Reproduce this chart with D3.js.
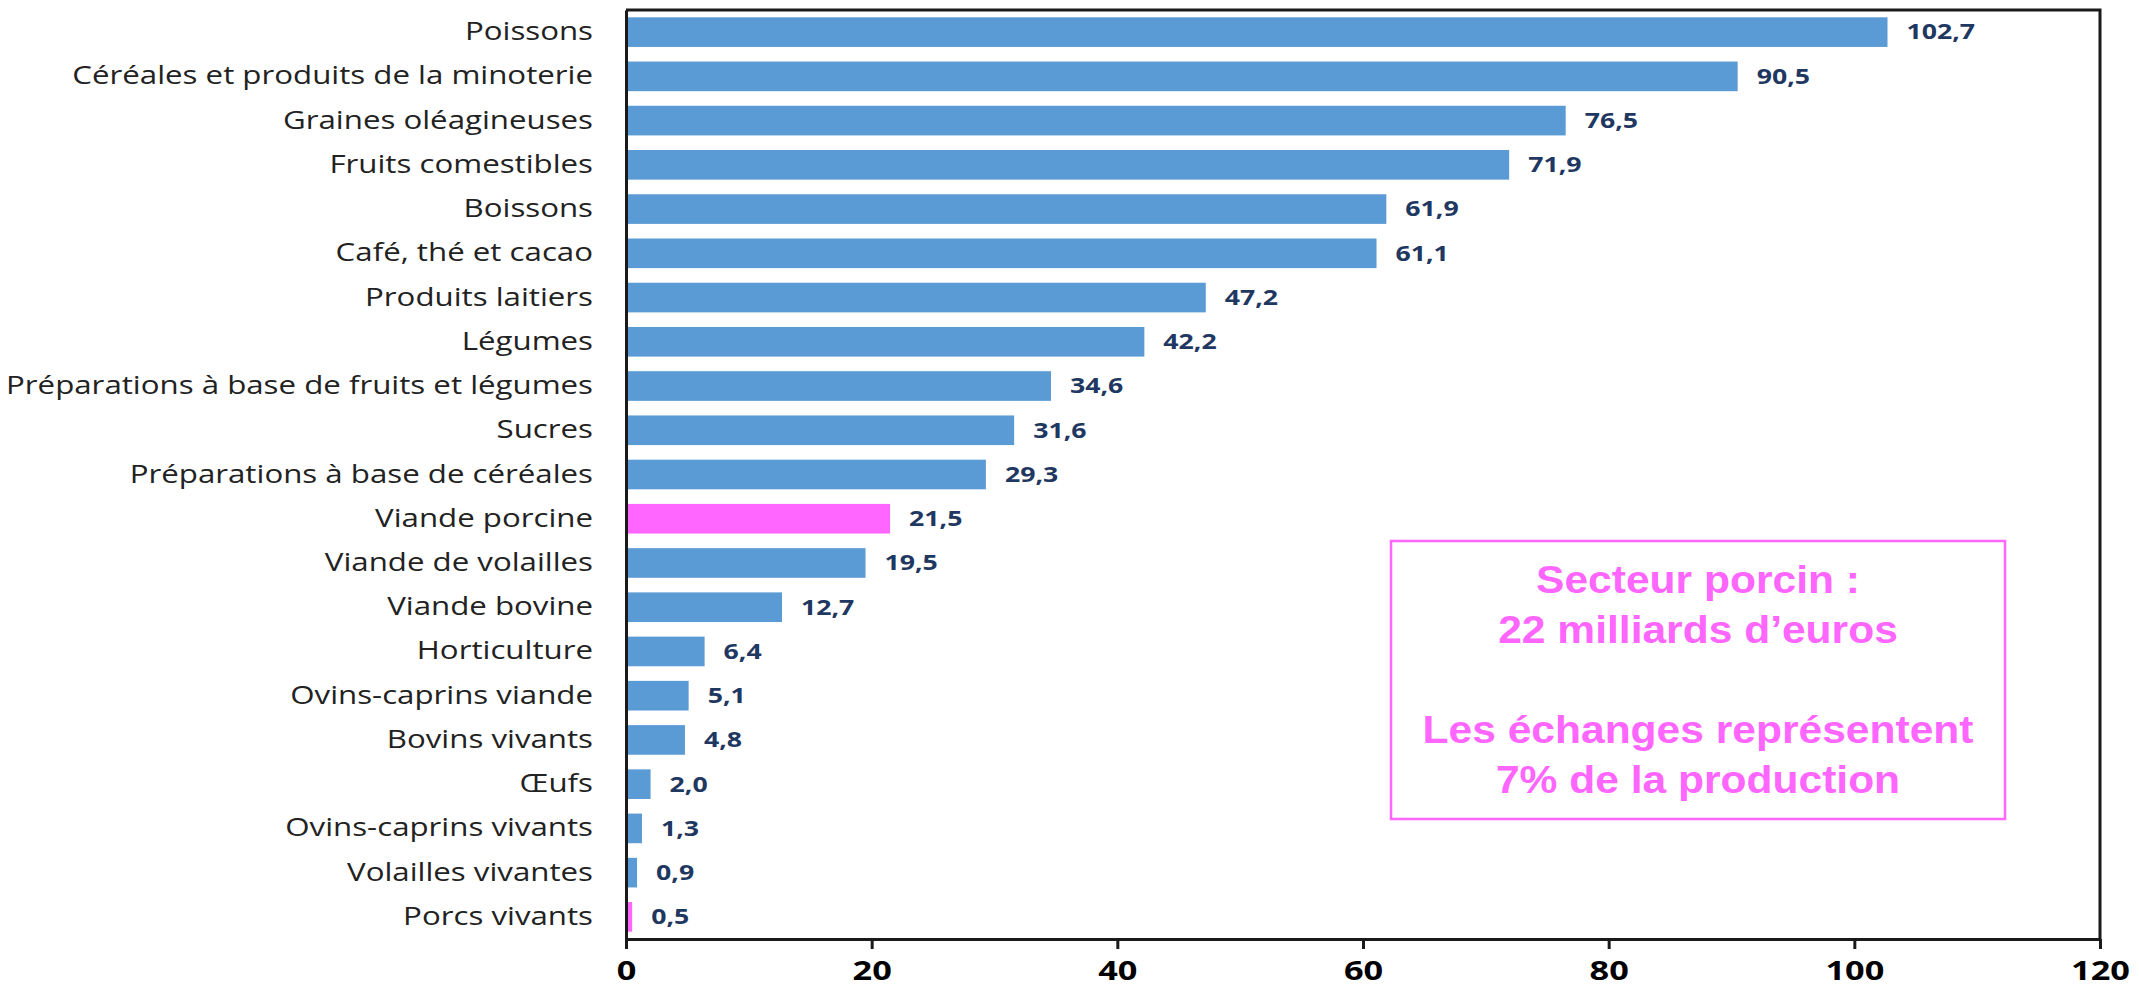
<!DOCTYPE html>
<html>
<head>
<meta charset="utf-8">
<script src="https://cdn.jsdelivr.net/npm/d3@7"></script>
<style>
  body { margin: 0; background: #fff; }
  svg { display: block; }
</style>
</head>
<body>
<div id="chart"></div>
<script>
var categories = [
  "Poissons",
  "Céréales et produits de la minoterie",
  "Graines oléagineuses",
  "Fruits comestibles",
  "Boissons",
  "Café, thé et cacao",
  "Produits laitiers",
  "Légumes",
  "Préparations à base de fruits et légumes",
  "Sucres",
  "Préparations à base de céréales",
  "Viande porcine",
  "Viande de volailles",
  "Viande bovine",
  "Horticulture",
  "Ovins-caprins viande",
  "Bovins vivants",
  "Œufs",
  "Ovins-caprins vivants",
  "Volailles vivantes",
  "Porcs vivants"
];
var values = [102.7, 90.5, 76.5, 71.9, 61.9, 61.1, 47.2, 42.2, 34.6, 31.6, 29.3,
  21.5, 19.5, 12.7, 6.4, 5.1, 4.8, 2.0, 1.3, 0.9, 0.5];
var highlighted = ["Viande porcine", "Porcs vivants"];
var xTicks = [0, 20, 40, 60, 80, 100, 120];
var noteLines = ["Secteur porcin :", "22 milliards d’euros", "", "Les échanges représentent", "7% de la production"];

var width = 2139,
height = 990;
var margin = { top: 10, right: 39, bottom: 51, left: 626 };
// the original picture is stretched sideways, so text gets widened too
var stretch = 1.25;

var data = categories.map(function (c, i) {
  return { label: c, value: values[i] };
});

var svg = d3.select("#chart").append("svg")
  .attr("width", width)
  .attr("height", height);

var x = d3.scaleLinear()
  .domain([0, 120])
  .range([margin.left, width - margin.right]);

var y = d3.scaleBand()
  .domain(categories)
  .range([margin.top, height - margin.bottom])
  .paddingInner(0.33)
  .paddingOuter(0.165);

var fmt = function (v) {
  return d3.format(".1f")(v).replace(".", ",");
};

// bars
svg.append("g").attr("class", "bars")
  .selectAll("rect")
  .data(data)
  .enter()
  .append("rect")
  .attr("x", x(0))
  .attr("y", function (d) { return y(d.label); })
  .attr("width", function (d) { return x(d.value) - x(0); })
  .attr("height", y.bandwidth())
  .attr("fill", function (d) {
    return highlighted.indexOf(d.label) >= 0 ? "#ff66ff" : "#5b9bd5";
  });

// value labels
svg.append("g").attr("class", "values")
  .selectAll("text")
  .data(data)
  .enter()
  .append("text")
  .attr("transform", function (d) {
    return "translate(" + (x(d.value) + 19) + "," + (y(d.label) + y.bandwidth() / 2) + ") scale(1.27,1)";
  })
  .attr("dy", "0.35em")
  .style("font-family", "'Open Sans', sans-serif")
  .style("font-weight", "bold")
  .style("font-size", "21px")
  .style("fill", "#1f3861")
  .text(function (d) { return fmt(d.value); });

// frame (top and right)
svg.append("path")
  .attr("class", "frame")
  .attr("d", "M" + x(0) + "," + margin.top + "H" + x(120) + "V" + (height - margin.bottom))
  .attr("fill", "none")
  .attr("stroke", "#1a1a1a")
  .attr("stroke-width", 3);

// y axis (no ticks)
var yAxis = svg.append("g")
  .attr("transform", "translate(" + x(0) + ",0)")
  .call(d3.axisLeft(y).tickSize(0).tickPadding(0));
yAxis.select(".domain")
  .attr("stroke", "#1a1a1a")
  .attr("stroke-width", 3);
yAxis.selectAll("text")
  .attr("x", -33 / stretch)
  .attr("transform", "scale(" + stretch + ",1)")
  .style("font-family", "'Open Sans', sans-serif")
  .style("font-size", "25px")
  .style("fill", "#222");

// x axis
var xAxis = svg.append("g")
  .attr("transform", "translate(0," + (height - margin.bottom) + ")")
  .call(d3.axisBottom(x).tickValues(xTicks).tickSize(10).tickSizeOuter(0).tickPadding(12));
xAxis.select(".domain")
  .attr("stroke", "#1a1a1a")
  .attr("stroke-width", 3);
xAxis.selectAll(".tick line")
  .attr("stroke", "#1a1a1a")
  .attr("stroke-width", 3);
xAxis.selectAll("text")
  .attr("transform", "scale(1.27,1)")
  .style("font-family", "'Open Sans', sans-serif")
  .style("font-weight", "bold")
  .style("font-size", "27px")
  .style("fill", "#000");

// annotation box
var note = svg.append("g").attr("class", "note");
note.append("rect")
  .attr("x", 1391)
  .attr("y", 541)
  .attr("width", 614)
  .attr("height", 278)
  .attr("fill", "#fff")
  .attr("stroke", "#ff66ff")
  .attr("stroke-width", 2.5);
note.selectAll("text")
  .data(noteLines)
  .enter()
  .append("text")
  .attr("transform", function (d, i) {
    return "translate(1698," + (580 + i * 50) + ") scale(1.12,1)";
  })
  .attr("dy", "0.35em")
  .attr("text-anchor", "middle")
  .style("font-family", "'Liberation Sans', Arial, sans-serif")
  .style("font-weight", "bold")
  .style("font-size", "38px")
  .style("fill", "#ff66ff")
  .text(function (d) { return d; });
</script>
</body>
</html>
